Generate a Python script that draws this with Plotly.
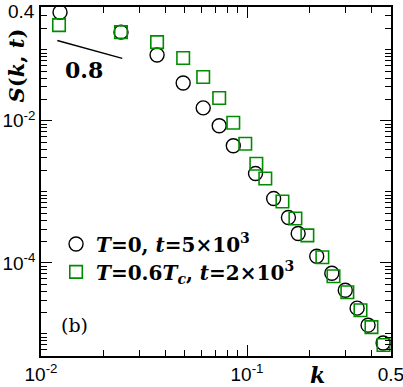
import math
import plotly.graph_objects as go

# T = 0, t = 5x10^3  (circles)
k_T0 = [0.01237, 0.02445, 0.0366, 0.049, 0.0613, 0.0733, 0.0858, 0.110, 0.1347,
        0.1589, 0.1772, 0.218, 0.2581, 0.300, 0.3424, 0.387, 0.458]
S_T0 = [0.338, 0.177, 0.0843, 0.0341, 0.0152, 0.00851, 0.00446, 0.00181, 0.000805,
        0.000436, 0.00026, 0.000124, 7.15e-5, 4.13e-5, 2.31e-5, 1.33e-5, 7.45e-6]

# T = 0.6 Tc, t = 2x10^3  (squares)
k_T06 = [0.01223, 0.02445, 0.0366, 0.049, 0.0613, 0.0733, 0.0858, 0.0981, 0.111, 0.1227,
         0.1486, 0.1718, 0.1964, 0.2322, 0.263, 0.307, 0.3556, 0.402, 0.46]
S_T06 = [0.222, 0.177, 0.128, 0.0765, 0.0414, 0.021, 0.00938, 0.00475, 0.00249, 0.00154,
         0.000731, 0.000423, 0.000244, 0.00012, 6.49e-5, 3.87e-5, 2.16e-5, 1.25e-5, 6.98e-6]

# guide line with slope -0.8
k_guide = [0.012, 0.0248]
slope = -0.8
S_guide = [0.135 * (k / k_guide[0]) ** slope for k in k_guide]

x_ticks = [0.01, 0.1, 0.5]
x_ticktext = ["10<sup>-2</sup>", "10<sup>-1</sup>", "0.5"]
y_ticks = [1e-4, 1e-2, 0.4]
# the top label is drawn as a note below so it is not cut at the page edge
y_ticktext = ["10<sup>-4</sup>", "10<sup>-2</sup>", ""]

x_minor = [m * 10.0 ** n for n in (-2, -1) for m in range(1, 10)]
y_minor = [m * 10.0 ** n for n in range(-6, 0) for m in range(1, 10)]

serif = "DejaVu Serif"
sans = "Liberation Sans"
green = "#008c00"

fig = go.Figure()
fig.add_trace(go.Scatter(
    x=k_T0, y=S_T0, mode="markers",
    name="<b><i>T</i>=0, <i>t</i>=5×10<sup>3</sup></b>",
    marker=dict(symbol="circle-open", size=14, color="black", line=dict(width=1.4)),
    legend="legend",
))
fig.add_trace(go.Scatter(
    x=k_T06, y=S_T06, mode="markers",
    name="<b><i>T</i>=0.6<i>T</i><sub><i>c</i></sub>, <i>t</i>=2×10<sup>3</sup></b>",
    marker=dict(symbol="square-open", size=12.5, color=green, line=dict(width=1.6)),
    legend="legend2",
))
fig.add_trace(go.Scatter(
    x=k_guide, y=S_guide, mode="lines", showlegend=False,
    line=dict(color="black", width=1.4),
))

axis_common = dict(
    type="log", showline=True, linecolor="black", linewidth=1.5,
    ticks="inside", ticklen=11, tickwidth=1.3, tickcolor="black",
    mirror="allticks", showgrid=False, zeroline=False, automargin=False,
    ticklabeloverflow="allow",
    tickfont=dict(family=sans, size=19, color="black"),
)

fig.update_xaxes(
    range=[-2, math.log10(0.5) + 1e-4], tickmode="array", tickvals=x_ticks,
    ticktext=x_ticktext,
    minor=dict(tickmode="array", tickvals=x_minor, ticks="inside", ticklen=6,
               tickwidth=1.2, tickcolor="black", showgrid=False),
    **axis_common,
)
fig.update_yaxes(
    range=[-5.31, math.log10(0.4) + 1e-4], tickmode="array", tickvals=y_ticks,
    ticktext=y_ticktext,
    minor=dict(tickmode="array", tickvals=y_minor, ticks="inside", ticklen=6,
               tickwidth=1.2, tickcolor="black", showgrid=False),
    **axis_common,
)

legend_common = dict(
    xanchor="left", yanchor="middle", bgcolor="rgba(0,0,0,0)", borderwidth=0,
    font=dict(family=serif, size=20, color="black"),
)

def note(text, x, y, size, angle=0, family=serif, xanchor="center"):
    return dict(text=text, x=x, y=y, xref="paper", yref="paper", showarrow=False,
                xanchor=xanchor, yanchor="middle", textangle=angle,
                font=dict(family=family, size=size, color="black"))

fig.update_layout(
    width=403, height=387,
    margin=dict(l=41, r=12, t=7, b=31),
    plot_bgcolor="white", paper_bgcolor="white",
    legend=dict(x=0.043, y=0.321, **legend_common),
    legend2=dict(x=0.043, y=0.241, **legend_common),
    annotations=[
        note("0.4", -0.012, 0.988, 19, family=sans, xanchor="right"),
        note("<b><i>S</i>(<i>k</i>, <i>t</i>)</b>", -0.07, 0.834, 21, -90),
        note("<b><i>k</i></b>", 0.7886, -0.054, 22),
        note("<b>0.8</b>", 0.1229, 0.8195, 22),
        note("(b)", 0.0943, 0.0888, 19),
    ],
)

fig.write_html("out.html", config={"displayModeBar": False},
               post_script="document.body.style.margin='0';")
